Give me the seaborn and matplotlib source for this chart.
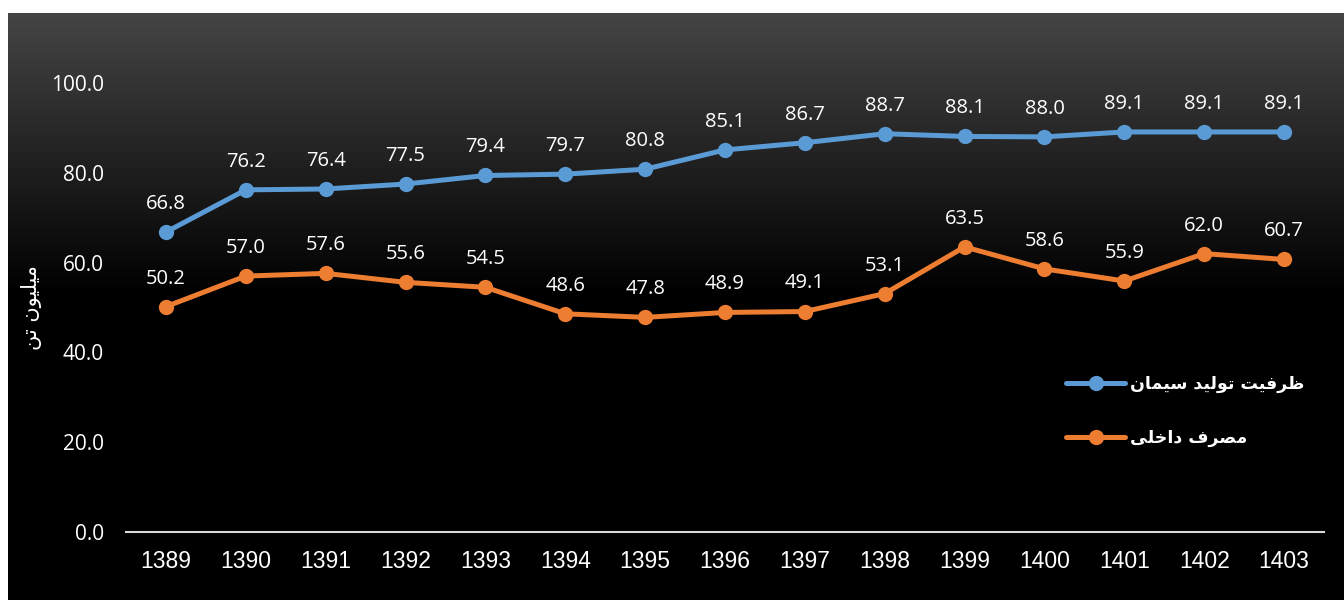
import numpy as np
import pandas as pd
import matplotlib
matplotlib.use("Agg")
import matplotlib.pyplot as plt
import seaborn as sns

years = ["1389", "1390", "1391", "1392", "1393", "1394", "1395", "1396",
         "1397", "1398", "1399", "1400", "1401", "1402", "1403"]
capacity = [66.8, 76.2, 76.4, 77.5, 79.4, 79.7, 80.8, 85.1, 86.7, 88.7,
            88.1, 88.0, 89.1, 89.1, 89.1]
consumption = [50.2, 57.0, 57.6, 55.6, 54.5, 48.6, 47.8, 48.9, 49.1, 53.1,
               63.5, 58.6, 55.9, 62.0, 60.7]
y_ticks = [0, 20, 40, 60, 80, 100]

# Persian labels, written with Arabic presentation forms in visual order
def visual(s):
    return s[::-1]

name_capacity = visual("\uFEC7\uFEAE\uFED3\uFEF4\uFE96 \uFE97\uFEEE\uFEDF\uFEF4\uFEAA \uFEB3\uFEF4\uFEE4\uFE8E\uFEE5")
name_consumption = visual("\uFEE3\uFEBC\uFEAE\uFED1 \uFEA9\uFE8D\uFEA7\uFEE0\uFEF0")
y_title = visual("\uFEE3\uFEF4\uFEE0\uFEF4\uFEEE\uFEE5 \uFE97\uFEE6")

df = pd.DataFrame({
    "value": capacity + consumption,
    "series": [name_capacity] * len(years) + [name_consumption] * len(years),
})
df["xi"] = list(range(len(years))) * 2

sns.set_theme(style="dark")
plt.rcParams["font.family"] = ["DejaVu Sans"]

fig = plt.figure(figsize=(13.44, 6.0), dpi=100)
fig.patch.set_facecolor("white")

# background panel with vertical gradient
bg = fig.add_axes([8 / 1344, 0, 1 - 8 / 1344, 1 - 13 / 600])
bg.set_axis_off()
grad = np.linspace(0, 1, 512)
cvals = np.clip(0.27 * (1 - grad / 0.48), 0, None)
img = np.repeat(cvals[:, None, None], 3, axis=2)
img = np.repeat(img, 2, axis=1)
bg.imshow(img, aspect="auto", extent=[0, 1, 0, 1], origin="upper",
          interpolation="bilinear")
bg.set_xlim(0, 1)
bg.set_ylim(0, 1)

ax = fig.add_axes([126 / 1344, 68 / 600, (1324 - 126) / 1344, (532 - 83) / 600])
ax.set_facecolor("none")

palette = {name_capacity: "#5B9BD5", name_consumption: "#ED7D31"}
sns.lineplot(data=df, x="xi", y="value", hue="series", palette=palette,
             marker="o", markersize=11, markeredgewidth=0, linewidth=3.6,
             ax=ax, legend=True)

for vals in (capacity, consumption):
    for i, v in enumerate(vals):
        ax.annotate(f"{v:.1f}", (i, v), xytext=(0, 13), textcoords="offset points",
                    ha="center", va="bottom", color="white", fontsize=14.5,
                    family="Open Sans")

ax.set_xlim(-0.5, len(years) - 0.5)
ax.set_ylim(0, 100)
ax.set_xticks(range(len(years)))
ax.set_xticklabels(years, family="Liberation Sans", fontsize=16.5)
ax.set_yticks(y_ticks)
ax.set_yticklabels([f"{t:.1f}" for t in y_ticks], family="Open Sans", fontsize=15)
ax.tick_params(axis="x", colors="white", pad=13, length=0)
ax.tick_params(axis="y", colors="white", pad=16, length=0)
ax.set_xlabel("")
ax.set_ylabel("")
ax.grid(False)
for s in ["top", "right", "left"]:
    ax.spines[s].set_visible(False)
ax.spines["bottom"].set_color("#D9D9D9")
ax.spines["bottom"].set_linewidth(1.5)

fig.text(31 / 1344, 1 - 308 / 600, y_title, rotation=90, color="white",
         fontsize=15, ha="center", va="center")

handles, labels = ax.get_legend_handles_labels()
leg = ax.legend(handles, labels, loc="center left",
                bbox_to_anchor=(1066 / 1344, 1 - 411 / 600),
                bbox_transform=fig.transFigure, frameon=False,
                labelspacing=2.1, handlelength=3.4, handletextpad=0.3,
                borderpad=0, borderaxespad=0, prop={"size": 12.5, "weight": "bold"})
for t in leg.get_texts():
    t.set_color("white")

fig.savefig("out.png", dpi=100, facecolor=fig.get_facecolor())
